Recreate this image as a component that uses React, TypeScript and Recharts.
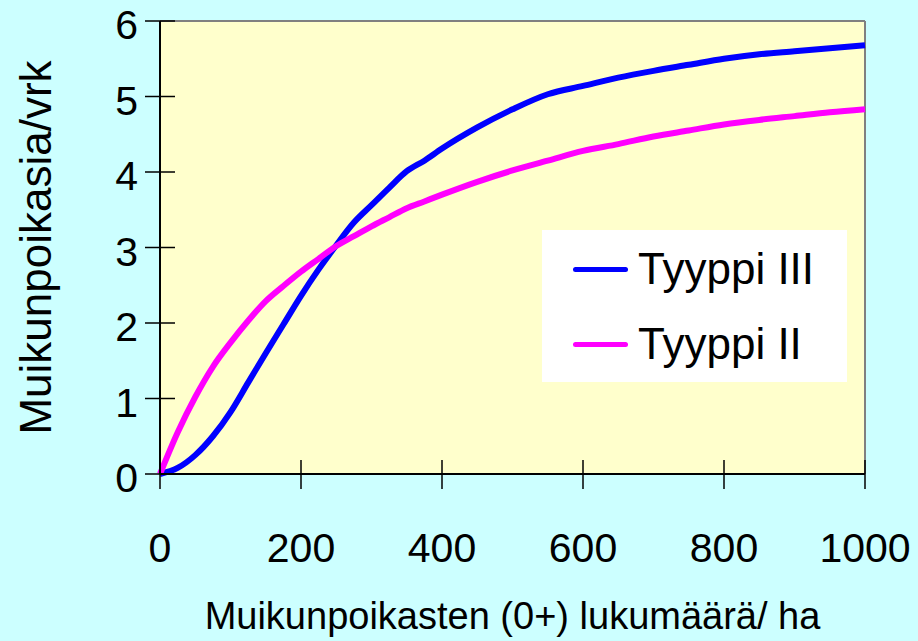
import React from 'react';
import { LineChart, Line, XAxis, YAxis, CartesianGrid, ReferenceLine, Legend } from 'recharts';

// x = fry count per hectare
const fryPerHa = [0, 25, 50, 75, 100, 125, 150, 175, 200, 225, 250, 275, 300, 325, 350, 375, 400, 450, 500, 550, 600, 650, 700, 750, 800, 850, 900, 950, 1000];
const tyyppiIII = [0, 0.08, 0.25, 0.5, 0.82, 1.21, 1.6, 1.98, 2.36, 2.71, 3.03, 3.33, 3.56, 3.79, 4.01, 4.15, 4.31, 4.59, 4.83, 5.03, 5.14, 5.25, 5.34, 5.42, 5.5, 5.56, 5.6, 5.64, 5.68];
const tyyppiII = [0, 0.55, 1.02, 1.42, 1.74, 2.03, 2.29, 2.49, 2.68, 2.85, 3.02, 3.15, 3.28, 3.4, 3.52, 3.61, 3.7, 3.87, 4.02, 4.15, 4.28, 4.37, 4.47, 4.55, 4.63, 4.69, 4.74, 4.79, 4.83];

const xTicks = [0, 200, 400, 600, 800, 1000];
const yTicks = [0, 1, 2, 3, 4, 5, 6];
const legendOrder = ['t3', 't2'];

const data = fryPerHa.map((x, i) => ({ x, t3: tyyppiIII[i], t2: tyyppiII[i] }));

const FONT = '"Liberation Sans", Arial, sans-serif';
const TICK = 15;

const YTick = (props: any) => {
  const { x, y, payload } = props;
  const axisX = x + TICK;
  return (
    <g>
      <line x1={axisX - 15} x2={axisX + 15} y1={y} y2={y} stroke="#000" strokeWidth={1.5} />
      <text x={axisX - 22} y={y + 18} textAnchor="end" fontSize={41} fontFamily={FONT} fill="#000">
        {payload.value}
      </text>
    </g>
  );
};

const XTick = (props: any) => {
  const { x, y, payload } = props;
  const axisY = y - TICK;
  return (
    <g>
      <line x1={x} x2={x} y1={axisY - 14} y2={axisY + 15} stroke="#000" strokeWidth={1.5} />
      <text x={x} y={axisY + 88} textAnchor="middle" fontSize={41} fontFamily={FONT} fill="#000">
        {payload.value}
      </text>
    </g>
  );
};

const YTitle = (props: any) => {
  const vb = props.viewBox || {};
  const cy = (vb.y || 21) + (vb.height || 453) / 2;
  return (
    <text
      x={51}
      y={cy}
      transform={`rotate(-90, 51, ${cy})`}
      textAnchor="middle"
      fontSize={44}
      fontFamily={FONT}
      fill="#000"
    >
      Muikunpoikasia/vrk
    </text>
  );
};

const LegendBox = (props: any) => {
  const items = [...(props.payload || [])].sort(
    (a: any, b: any) => legendOrder.indexOf(a.dataKey) - legendOrder.indexOf(b.dataKey)
  );
  return (
    <div style={{ width: 305, height: 152, background: '#fff', position: 'relative', fontFamily: FONT }}>
      {items.map((it: any, i: number) => (
        <div key={i} style={{ position: 'absolute', left: 31, top: 16 + i * 75, height: 46, display: 'flex', alignItems: 'center' }}>
          <div style={{ width: 55, height: 5, borderRadius: 3, background: it.color }} />
          <span style={{ marginLeft: 10, fontSize: 44, color: '#000' }}>{it.value}</span>
        </div>
      ))}
    </div>
  );
};

export default function App() {
  return (
    <div style={{ position: 'absolute', left: 0, top: 0, width: 918, height: 641, background: '#CCFFFF' }}>
      <LineChart width={918} height={641} data={data} margin={{ top: 21, right: 53, left: 0, bottom: 0 }}>
        <CartesianGrid horizontal={false} vertical={false} fill="#FFFFCC" />
        <XAxis
          dataKey="x"
          type="number"
          domain={[0, 1000]}
          ticks={xTicks}
          height={167}
          tickSize={TICK}
          tickMargin={0}
          tickLine={false}
          axisLine={{ stroke: '#000', strokeWidth: 2 }}
          tick={<XTick />}
          label={{ value: 'Muikunpoikasten (0+) lukumäärä/ ha', position: 'insideBottom', offset: 12, fontSize: 38, fontFamily: FONT, fill: '#000' }}
        />
        <YAxis
          type="number"
          domain={[0, 6]}
          ticks={yTicks}
          width={160}
          tickSize={TICK}
          tickMargin={0}
          tickLine={false}
          axisLine={{ stroke: '#000', strokeWidth: 2 }}
          tick={<YTick />}
          label={<YTitle />}
        />
        <ReferenceLine y={6} stroke="#808080" strokeWidth={2} />
        <ReferenceLine x={1000} stroke="#808080" strokeWidth={2} />
        <Legend
          layout="vertical"
          align="center"
          verticalAlign="middle"
          content={<LegendBox />}
          wrapperStyle={{ position: 'absolute', left: 542, top: 230, width: 305, height: 152 }}
        />
        <Line dataKey="t3" name="Tyyppi III" type="monotone" stroke="#0000FF" strokeWidth={6} dot={false} isAnimationActive={false} />
        <Line dataKey="t2" name="Tyyppi II" type="monotone" stroke="#FF00FF" strokeWidth={6} dot={false} isAnimationActive={false} />
      </LineChart>
    </div>
  );
}
